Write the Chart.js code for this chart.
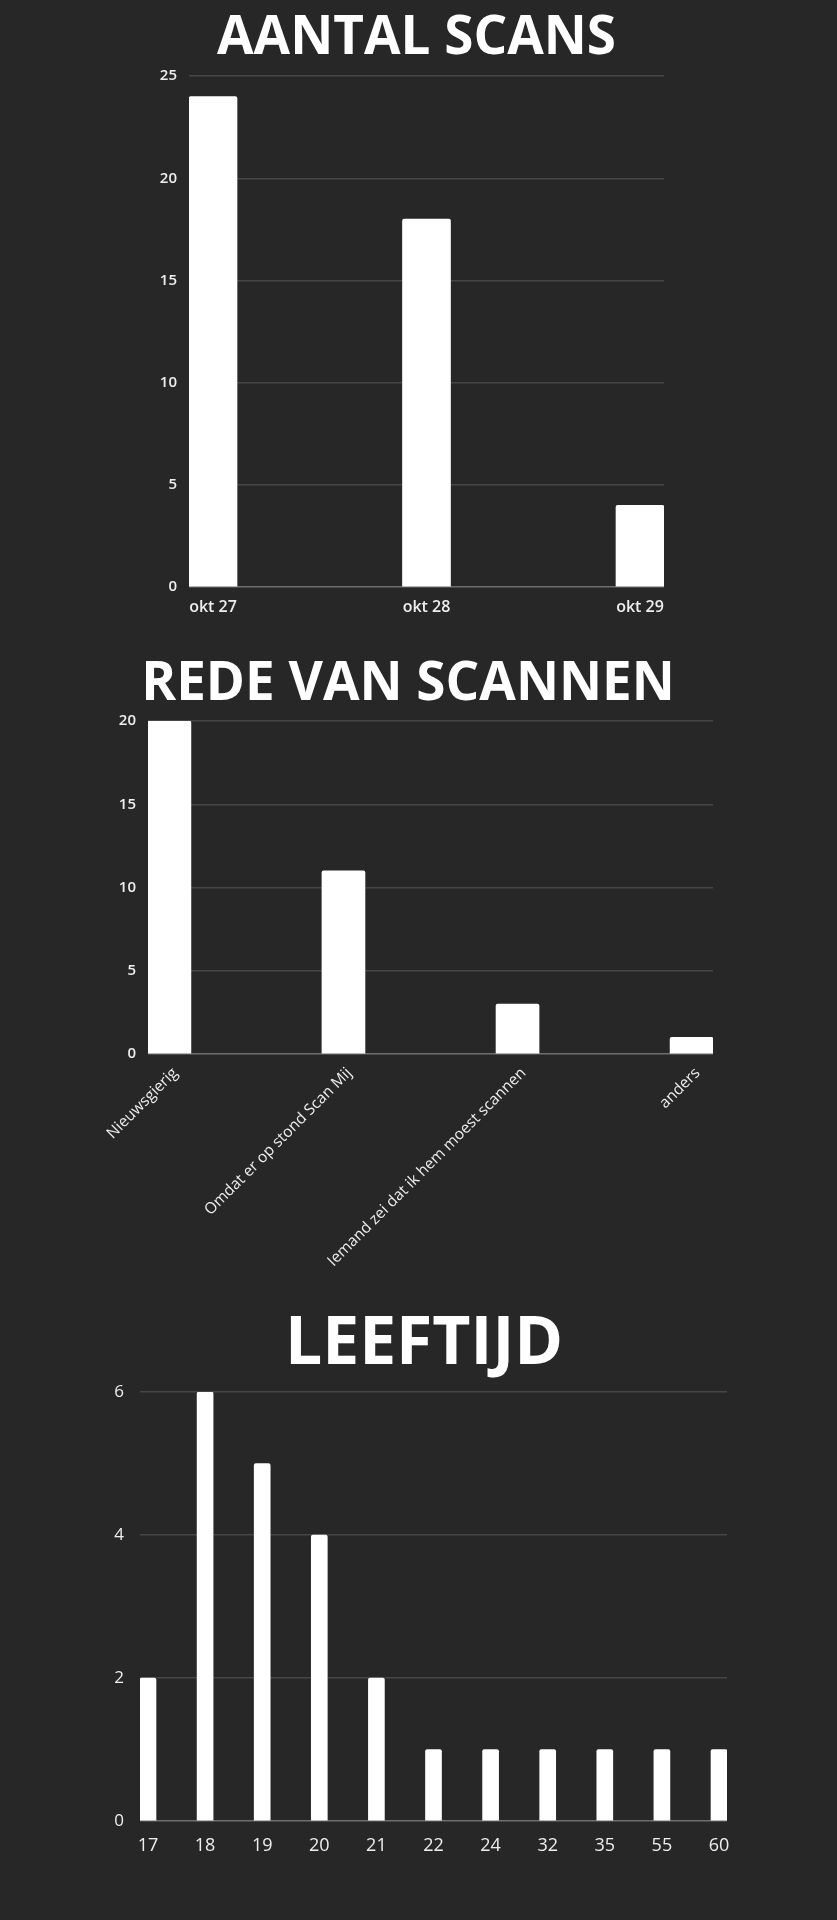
<!DOCTYPE html>
<html>
<head>
<meta charset="utf-8">
<script src="https://cdn.jsdelivr.net/npm/chart.js@4.4.1/dist/chart.umd.min.js"></script>
<style>
  html, body { margin: 0; padding: 0; background: #272727; }
  body { width: 837px; height: 1920px; position: relative; overflow: hidden; }
  .box { position: absolute; left: 0; width: 837px; }
</style>
</head>
<body>
<div class="box" style="top:0;height:630px"><canvas id="c1"></canvas></div>
<div class="box" style="top:630px;height:654px"><canvas id="c2"></canvas></div>
<div class="box" style="top:1284px;height:636px"><canvas id="c3"></canvas></div>
<script>
// ---- data ----
const scanTitle = 'AANTAL SCANS';
const scanDays = ['okt 27', 'okt 28', 'okt 29'];
const scanCounts = [24, 18, 4];

const reasonTitle = 'REDE VAN SCANNEN';
const reasonLabels = ['Nieuwsgierig', 'Omdat er op stond Scan Mij', 'Iemand zei dat ik hem moest scannen', 'anders'];
const reasonCounts = [20, 11, 3, 1];

const ageTitle = 'LEEFTIJD';
const ageLabels = ['17', '18', '19', '20', '21', '22', '24', '32', '35', '55', '60'];
const ageCounts = [2, 6, 5, 4, 2, 1, 1, 1, 1, 1, 1];

// ---- helpers ----
const TXT = '#eeeeee';
const GRID = '#464646';
const ZERO = '#6e6e6e';

function makeChart(id, cfg) {
  const labels = cfg.labels;
  const values = cfg.values;
  const half = cfg.halfBar;
  return new Chart(document.getElementById(id), {
    type: 'bar',
    data: {
      datasets: [{
        data: values.map((v, i) => ({ x: i, y: v })),
        backgroundColor: '#ffffff',
        borderWidth: 0,
        borderRadius: 2,
        barThickness: cfg.barThickness
      }]
    },
    options: {
      responsive: true,
      maintainAspectRatio: false,
      animation: false,
      events: [],
      layout: { padding: { left: cfg.padL, right: cfg.padR, top: 0, bottom: 0 } },
      plugins: {
        legend: { display: false },
        tooltip: { enabled: false },
        title: {
          display: true,
          text: cfg.title,
          color: '#ffffff',
          font: { family: 'Open Sans', size: cfg.titleSize, weight: 'bold', lineHeight: 1.2 },
          padding: { top: cfg.titleTop, bottom: cfg.titleBottom }
        }
      },
      scales: {
        x: {
          type: 'linear',
          offset: false,
          min: -half,
          max: labels.length - 1 + half,
          grid: { display: false, offset: false },
          border: { display: false },
          afterBuildTicks: s => { s.ticks = labels.map((_, i) => ({ value: i })); },
          afterFit: s => { s.height = cfg.xHeight; },
          ticks: {
            autoSkip: false,
            minRotation: cfg.rotation,
            maxRotation: cfg.rotation,
            padding: cfg.xPad,
            labelOffset: cfg.xLabelOffset || 0,
            color: TXT,
            font: cfg.xFont,
            callback: v => labels[v]
          }
        },
        y: {
          min: 0,
          max: cfg.yMax,
          grid: {
            drawTicks: false,
            lineWidth: 1.5,
            color: c => (c.tick && c.tick.value === 0) ? ZERO : GRID
          },
          border: { display: false },
          afterFit: s => { s.width = cfg.chartLeft - cfg.padL; },
          ticks: {
            stepSize: cfg.yStep,
            padding: cfg.yPad,
            color: TXT,
            font: cfg.yFont
          }
        },
        yR: {
          position: 'right',
          display: true,
          grid: { display: false, drawTicks: false },
          border: { display: false },
          ticks: { display: false },
          afterFit: s => { s.width = 837 - cfg.padR - cfg.chartRight; }
        }
      }
    }
  });
}

makeChart('c1', {
  title: scanTitle, labels: scanDays, values: scanCounts,
  titleSize: 53, titleTop: 7.5, titleBottom: 5,
  padL: 0, padR: 4,
  chartLeft: 189, chartRight: 664,
  halfBar: 0.1124, barThickness: 48,
  yMax: 25, yStep: 5, yPad: 12,
  yFont: { family: 'Open Sans', size: 15, weight: '600' },
  xFont: { family: 'Open Sans', size: 16, weight: '600' },
  xPad: 3, xHeight: 43, rotation: 0
});

makeChart('c2', {
  title: reasonTitle, labels: reasonLabels, values: reasonCounts,
  titleSize: 53, titleTop: 23, titleBottom: 4.4,
  padL: 0, padR: 21,
  chartLeft: 148, chartRight: 713,
  halfBar: 0.123, barThickness: 43,
  yMax: 20, yStep: 5, yPad: 12,
  yFont: { family: 'Open Sans', size: 15, weight: '600' },
  xFont: { family: 'Open Sans', size: 15.5, weight: 'normal' },
  xPad: 2, xLabelOffset: 6, xHeight: 230, rotation: 45
});

makeChart('c3', {
  title: ageTitle, labels: ageLabels, values: ageCounts,
  titleSize: 66, titleTop: 21.5, titleBottom: 7.3,
  padL: 11, padR: 0,
  chartLeft: 140, chartRight: 727,
  halfBar: 0.14, barThickness: 16,
  yMax: 6, yStep: 2, yPad: 16,
  yFont: { family: 'Open Sans', size: 17, weight: 'normal' },
  xFont: { family: 'Open Sans', size: 18, weight: 'normal' },
  xPad: 6, xHeight: 99, rotation: 0
});
</script>
</body>
</html>
